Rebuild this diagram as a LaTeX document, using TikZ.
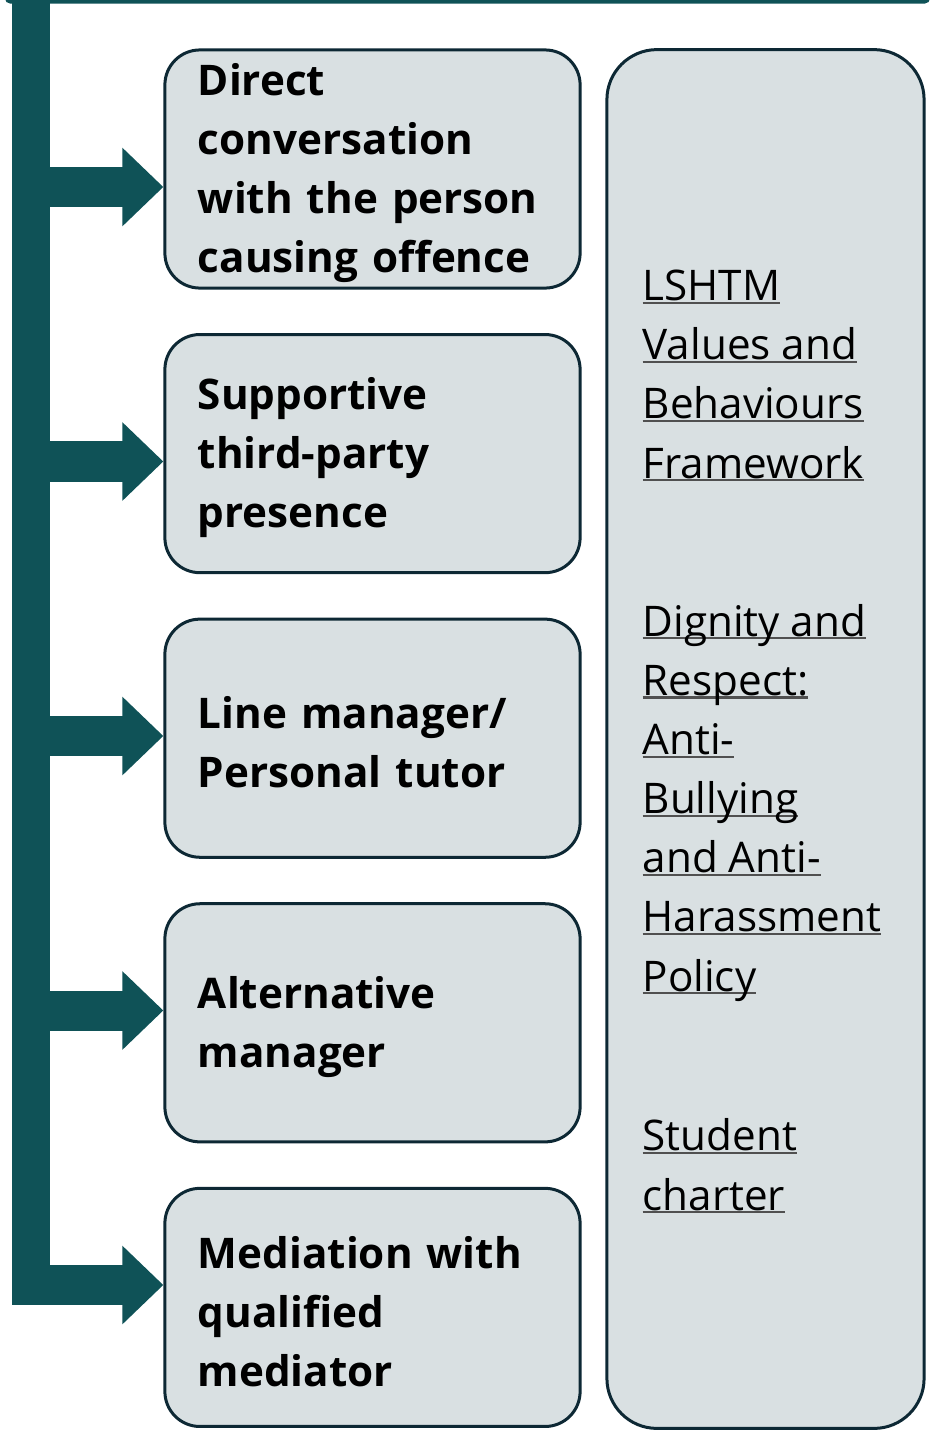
\documentclass[tikz,border=0pt]{standalone}
\usepackage{fontspec}
\setmainfont{Open Sans}
\usetikzlibrary{arrows.meta,positioning}

\definecolor{mteal}{RGB}{15,82,87}
\definecolor{mnavy}{RGB}{13,40,52}
\definecolor{mgrey}{RGB}{217,224,226}
\definecolor{mlink}{RGB}{80,80,80}
\newcommand*{\colTrunk}{mteal}
\newcommand*{\colEdge}{mnavy}
\newcommand*{\colFill}{mgrey}
\newcommand*{\xTrunk}{31}
\newcommand*{\xBox}{372.5}
\newcommand*{\yBoxTop}{169}
\newcommand*{\yBoxStep}{284.6}
\newcommand*{\yArrTop}{187}
\newcommand*{\yArrStep}{274.5}

\newsavebox{\linkbox}
\newcommand*{\linkline}[1]{\sbox{\linkbox}{#1}\rlap{\color{mlink}\rule[-0.07em]{\wd\linkbox}{0.05em}}\usebox{\linkbox}}

\begin{document}
\begin{tikzpicture}[x=0.01cm,y=-0.01cm,
    optbox/.style={rectangle, rounded corners=0.35cm, draw=\colEdge, line width=0.03cm,
        fill=\colFill, minimum width=4.15cm, minimum height=2.38cm, text width=3.49cm,
        inner xsep=0.33cm, inner ysep=0pt, align=left,
        font=\bfseries\fontsize{12pt}{16.8pt}\selectfont},
    policybox/.style={rectangle, rounded corners=0.5cm, draw=\colEdge, line width=0.03cm,
        fill=\colFill, minimum width=3.17cm, minimum height=13.78cm},
    linktext/.style={inner sep=0pt, align=left, font=\fontsize{12pt}{16.8pt}\selectfont},
    branch/.style={draw=\colTrunk, line width=0.40cm,
        -{Triangle[length=0.41cm,width=0.76cm]}, fill=\colTrunk}]

    \useasboundingbox (0,0) rectangle (939,1433);

    % top edge of the block above
    \fill[\colTrunk, rounded corners=0.05cm] (5,-20) rectangle (930,3.5);

    % trunk
    \draw[draw=\colTrunk, line width=0.38cm] (\xTrunk,-30) -- (\xTrunk,1305);

    \foreach \name/\txt [count=\i from 0] in {
        direct/{Direct\\conversation\\with the person\\causing offence},
        support/{Supportive\\third-party\\presence},
        tutor/{Line manager/\\Personal tutor},
        altmgr/{Alternative\\manager},
        mediate/{Mediation with\\qualified\\mediator}} {
        \node[optbox] (\name) at (\xBox,\yBoxTop+\i*\yBoxStep) {\rule{0pt}{11.5pt}\txt};
        \coordinate (root\i) at (12,\yArrTop+\i*\yArrStep);
        \draw[branch] (root\i) -- (root\i -| \name.west);
    }

    \node[policybox] (policies) at (765.5,739) {};

    % base anchor sits on the last line
    \node[linktext, anchor=base west] (valuestext) at (642,478)
        {\linkline{LSHTM}\\\linkline{Values and}\\\linkline{Behaviours}\\\linkline{Framework}};
    \node[linktext, anchor=base west] (dignitytext) at (642,991)
        {\linkline{Dignity and}\\\linkline{Respect:}\\\linkline{Anti-}\\\linkline{Bullying}\\\linkline{and Anti-}\\\linkline{Harassment}\\\linkline{Policy}};
    \node[linktext, anchor=base west] (chartertext) at (642,1210)
        {\linkline{Student}\\\linkline{charter}};

\end{tikzpicture}
\end{document}
